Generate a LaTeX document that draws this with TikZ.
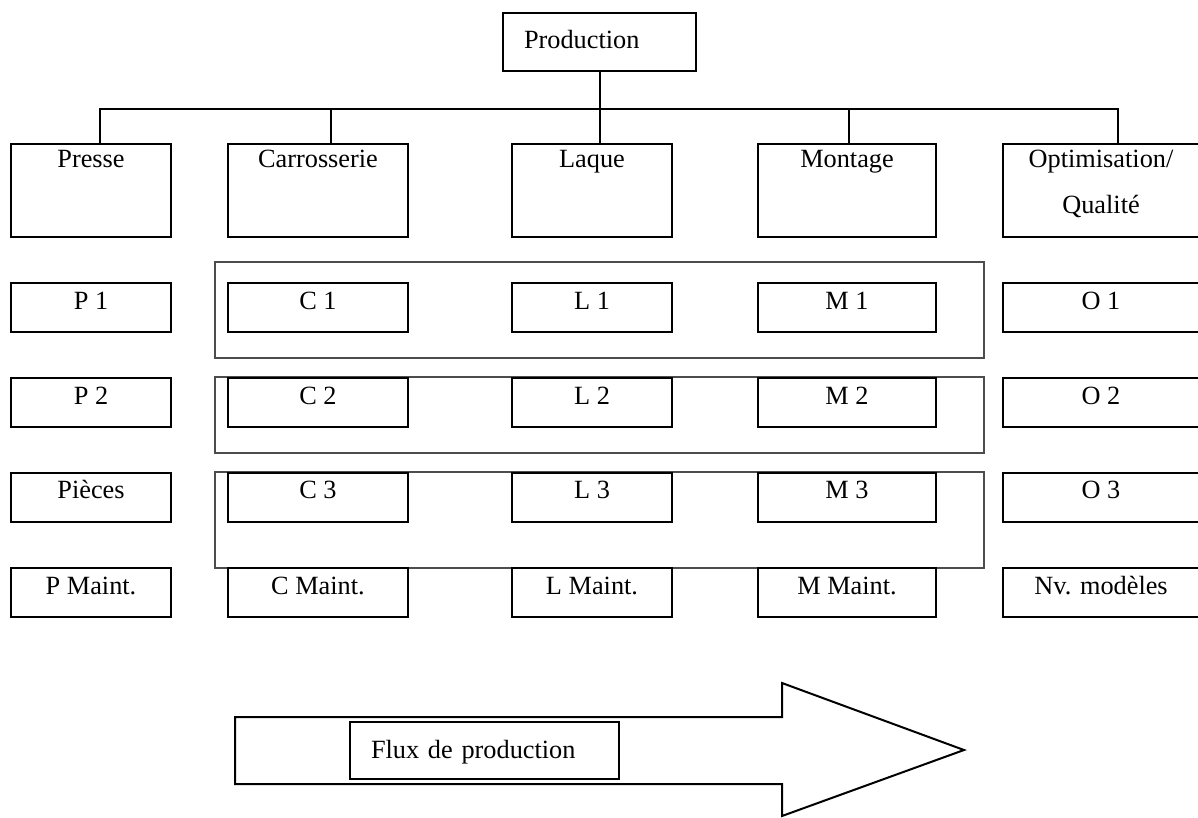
\documentclass[tikz,border=0pt]{standalone}
\usepackage{fontspec}
\setmainfont{Liberation Serif}
\begin{document}
\begin{tikzpicture}[x=1pt,y=-1pt,
  every node/.style={font=\fontsize{26.3}{30}\selectfont},
  conn/.style={line width=2pt},
  grp/.style={line width=1.5pt, draw=black!70},
  head/.style={draw, line width=2pt, inner sep=0pt, minimum width=#1,
    text height=23pt, text depth=70pt},
  rowbox/.style={draw, line width=2pt, inner sep=0pt, minimum width=#1,
    text height=26pt, text depth=23pt},
  titlebox/.style={draw, line width=2pt, inner xsep=21pt, inner ysep=0pt,
    align=left, text width=#1}
]
\useasboundingbox (0,0) rectangle (1198,817);
\clip (0,0) rectangle (1198,817);

% groups of workshops along the line
\draw[grp] (215,262) rectangle (984,358);
\draw[grp] (215,377) rectangle (984,453);
\draw[grp] (215,472) rectangle (984,568);

% top of the tree
\node[titlebox=151pt, text height=35pt, text depth=23pt] (prod) at (599.5,42) {Production};

% departments
\node[head=160pt] (presse) at (91,190.5)  {Presse};
\node[head=180pt] (carr)   at (318,190.5) {Carrosserie};
\node[head=160pt] (laque)  at (592,190.5) {Laque};
\node[head=178pt] (mont)   at (847,190.5) {Montage};
\node[head=196pt] (optim) at (1101,190.5)
  {\begin{tabular}[t]{@{}c@{}}Optimisation/\\[16pt]Qualité\end{tabular}};

% tree connectors
\coordinate (bus) at (0,109);
\coordinate (tp) at ([xshift=9pt]presse.north);
\coordinate (tc) at ([xshift=13pt]carr.north);
\coordinate (tm) at ([xshift=2pt]mont.north);
\coordinate (to) at ([xshift=17pt]optim.north);
\draw[conn] (tp) |- (to |- bus) -- (to);
\draw[conn] (tc) -- (tc |- bus);
\draw[conn] (tm) -- (tm |- bus);
\draw[conn] (prod.south) -- (prod.south |- laque.north);

% row 1
\node[rowbox=160pt] (p1) at (91,307.5)  {P 1};
\node[rowbox=180pt] (c1) at (318,307.5) {C 1};
\node[rowbox=160pt] (l1) at (592,307.5) {L 1};
\node[rowbox=178pt] (m1) at (847,307.5) {M 1};
\node[rowbox=196pt] (o1) at (1101,307.5) {O 1};
% row 2
\node[rowbox=160pt] (p2) at (91,402.5)  {P 2};
\node[rowbox=180pt] (c2) at (318,402.5) {C 2};
\node[rowbox=160pt] (l2) at (592,402.5) {L 2};
\node[rowbox=178pt] (m2) at (847,402.5) {M 2};
\node[rowbox=196pt] (o2) at (1101,402.5) {O 2};
% row 3
\node[rowbox=160pt] (p3) at (91,497)  {Pièces};
\node[rowbox=180pt] (c3) at (318,497) {C 3};
\node[rowbox=160pt] (l3) at (592,497) {L 3};
\node[rowbox=178pt] (m3) at (847,497) {M 3};
\node[rowbox=196pt] (o3) at (1101,497) {O 3};
% row 4
\node[rowbox=160pt] (p4) at (91,592.5)  {P Maint.};
\node[rowbox=180pt] (c4) at (318,592.5) {C Maint.};
\node[rowbox=160pt] (l4) at (592,592.5) {L Maint.};
\node[rowbox=178pt] (m4) at (847,592.5) {M Maint.};
\node[rowbox=196pt] (o4) at (1101,592.5) {Nv. modèles};

% flow arrow
\draw[line width=2pt] (235,717) -- (782,717) -- (782,683) -- (964,750)
  -- (782,816) -- (782,784) -- (235,784) -- cycle;
\node[titlebox=227pt, text height=36pt, text depth=21pt] (flux) at (484.5,750.5) {Flux de production};
\end{tikzpicture}
\end{document}
